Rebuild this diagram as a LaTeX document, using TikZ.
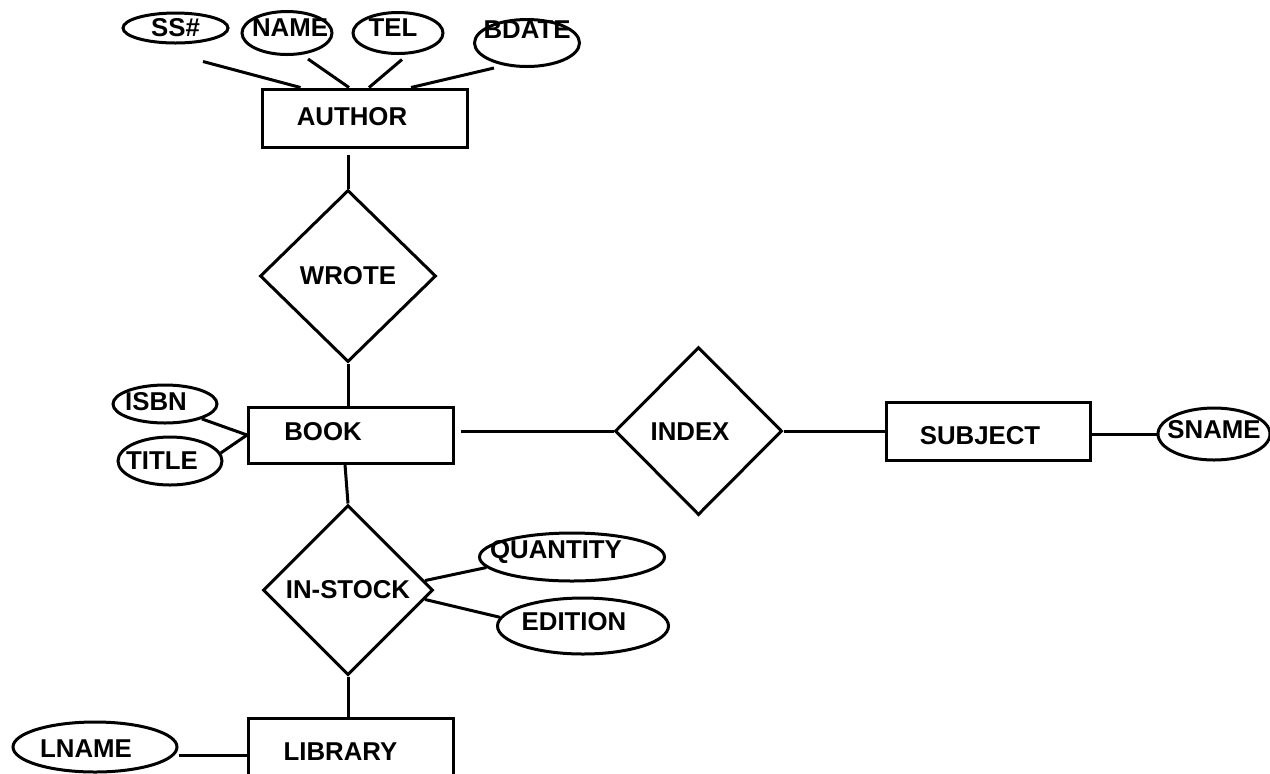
\documentclass[tikz,border=0pt]{standalone}
\usepackage{fontspec}
\setmainfont{Liberation Sans}
\usetikzlibrary{shapes.geometric}

\begin{document}
\begin{tikzpicture}[x=0.5pt, y=-0.5pt, line width=1.5pt,
    font=\fontsize{12.9}{15}\selectfont\bfseries,
    entity/.style={draw, rectangle, inner sep=0pt, minimum width=102.5pt, minimum height=29pt},
    relation/.style={draw, diamond, inner sep=0pt, minimum width=85pt, minimum height=85pt},
    attrib/.style={draw, ellipse, inner sep=0pt}]
      \useasboundingbox (0,0) rectangle (1270,773);

      % entities and relations
      \node[entity, label={[xshift=-6.25pt, yshift=0.5pt]center:AUTHOR}] (author) at (364.5,118) {};
      \node[relation, minimum width=88pt, minimum height=86pt] (wrote) at (348,276) {WROTE};
      \node[entity, minimum height=28pt, label={[xshift=-14pt, yshift=1.5pt]center:BOOK}] (book) at (351,435) {};
      \node[relation, minimum width=83.5pt, minimum height=84pt, label={[xshift=-4.25pt, yshift=-0.5pt]center:INDEX}] (index) at (698.5,431) {};
      \node[entity, minimum width=102pt, label={[xshift=-4pt, yshift=-2.5pt]center:SUBJECT}] (subject) at (988,431) {};
      \node[relation] (instock) at (348,590) {IN-STOCK};
      \node[entity, minimum height=31pt, label={[xshift=-5pt, yshift=-1.5pt]center:LIBRARY}] (library) at (350.5,749) {};

      % attributes
      \node[attrib, minimum width=52.5pt, minimum height=15pt] (ss) at (175.5,28) {SS\#};
      \node[attrib, minimum width=45pt, minimum height=21.5pt, label={[xshift=1.5pt, yshift=2.5pt]center:NAME}] (name) at (287,33) {};
      \node[attrib, minimum width=45pt, minimum height=20.5pt, label={[xshift=-2.5pt, yshift=2.5pt]center:TEL}] (tel) at (398,33) {};
      \node[attrib, minimum width=52.5pt, minimum height=23.5pt, label={[yshift=6.5pt]center:BDATE}] (bdate) at (527,43) {};
      \node[attrib, minimum width=52pt, minimum height=19pt, label={[xshift=-4.5pt, yshift=1pt]center:ISBN}] (isbn) at (165,404) {};
      \node[attrib, minimum width=52pt, minimum height=24pt, label={[xshift=-4pt]center:TITLE}] (title) at (170,461) {};
      \node[attrib, minimum width=56pt, minimum height=26pt, label={[yshift=2pt]center:SNAME}] (sname) at (1214,434) {};
      \node[attrib, minimum width=92.5pt, minimum height=24pt, label={[xshift=-8pt, yshift=2.5pt]center:QUANTITY}] (quantity) at (572,557) {};
      \node[attrib, minimum width=85.5pt, minimum height=28pt, label={[xshift=-4.5pt, yshift=2pt]center:EDITION}] (edition) at (583,626) {};
      \node[attrib, minimum width=82pt, minimum height=25pt, label={[xshift=-4.5pt, yshift=-1pt]center:LNAME}] (lname) at (95,747) {};

      \draw ([xshift=13.75pt, yshift=-8.5pt]ss.south) -- ([xshift=20pt]author.north west);
      \draw ([xshift=10.5pt, yshift=-1.5pt]name.south) -- ([xshift=-7.75pt]author.north);
      \draw ([xshift=2pt, yshift=-2.25pt]tel.south) -- ([xshift=2.25pt]author.north);
      \draw ([xshift=-16.5pt]bdate.south) -- ([xshift=23.25pt]author.north);

      \draw[shorten <=3pt] (wrote.north |- author.south) -- (wrote.north);
      \draw (wrote.south) -- (wrote.south |- book.north);
      \draw (isbn.-22) -- (book.west);
      \draw (title.9) -- (book.west);
      \draw[shorten <=3pt] (index.west -| book.east) -- (index.west);
      \draw (index.east) -- (subject.west);
      \draw (sname.west -| subject.east) -- (sname.west);

      \draw ([xshift=-3pt]book.south) -- (instock.north);
      \draw (instock.7) -- (quantity.187);
      \draw (instock.-7) -- (edition.174);
      \draw (instock.south) -- (instock.south |- library.north);
      \draw ([yshift=-4pt]lname.east) -- ([yshift=-3pt]library.west);

    \end{tikzpicture}
\end{document}
